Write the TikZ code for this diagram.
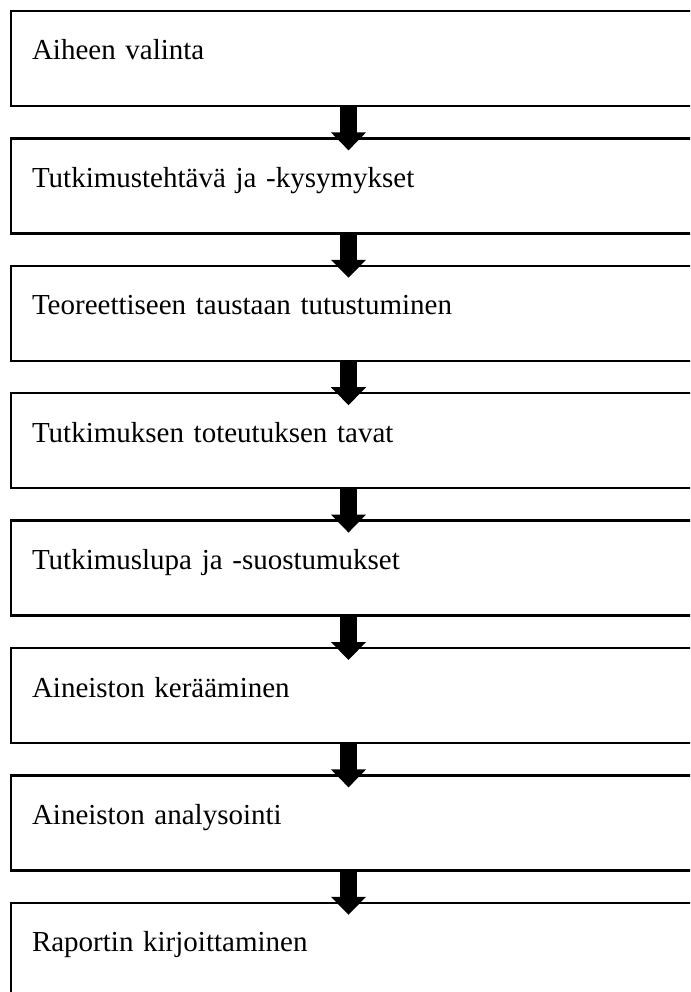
\documentclass[tikz,border=0pt]{standalone}
\usepackage{fontspec}
\setmainfont{Liberation Serif}
\usetikzlibrary{arrows.meta,positioning}

\begin{document}
\begin{tikzpicture}[
	node distance = 32.4pt,
	box/.style = {draw, line width=2.5pt, rectangle, minimum height=95pt,
		text width=650pt, inner xsep=21pt, align=left, outer sep=0pt,
		text height=0.6em, text depth=0.3em, font=\fontsize{29}{34}\selectfont},
	flow/.style = {line width=17pt, -{Triangle[length=18pt,width=34pt]}}
]
\clip (0pt,0pt) rectangle (690pt,-992pt);
\coordinate (ax) at (348.5pt,0pt);
\node [box, anchor=north west] (valinta) at (11pt,-11pt) {Aiheen valinta};
\node [box, below=of valinta] (tehtava) {Tutkimustehtävä ja -kysymykset};
\node [box, below=of tehtava] (teoria) {Teoreettiseen taustaan tutustuminen};
\node [box, below=of teoria] (tavat) {Tutkimuksen toteutuksen tavat};
\node [box, below=of tavat] (lupa) {Tutkimuslupa ja -suostumukset};
\node [box, below=of lupa] (keruu) {Aineiston kerääminen};
\node [box, below=of keruu] (analyysi) {Aineiston analysointi};
\node [box, below=of analyysi] (raportti) {Raportin kirjoittaminen};
\foreach \a/\b in {valinta/tehtava, tehtava/teoria, teoria/tavat, tavat/lupa,
		lupa/keruu, keruu/analyysi, analyysi/raportti}
	\draw [flow] ([yshift=1pt]\a.south -| ax) -- ([yshift=-12pt]\b.north -| ax);
\end{tikzpicture}
\end{document}
